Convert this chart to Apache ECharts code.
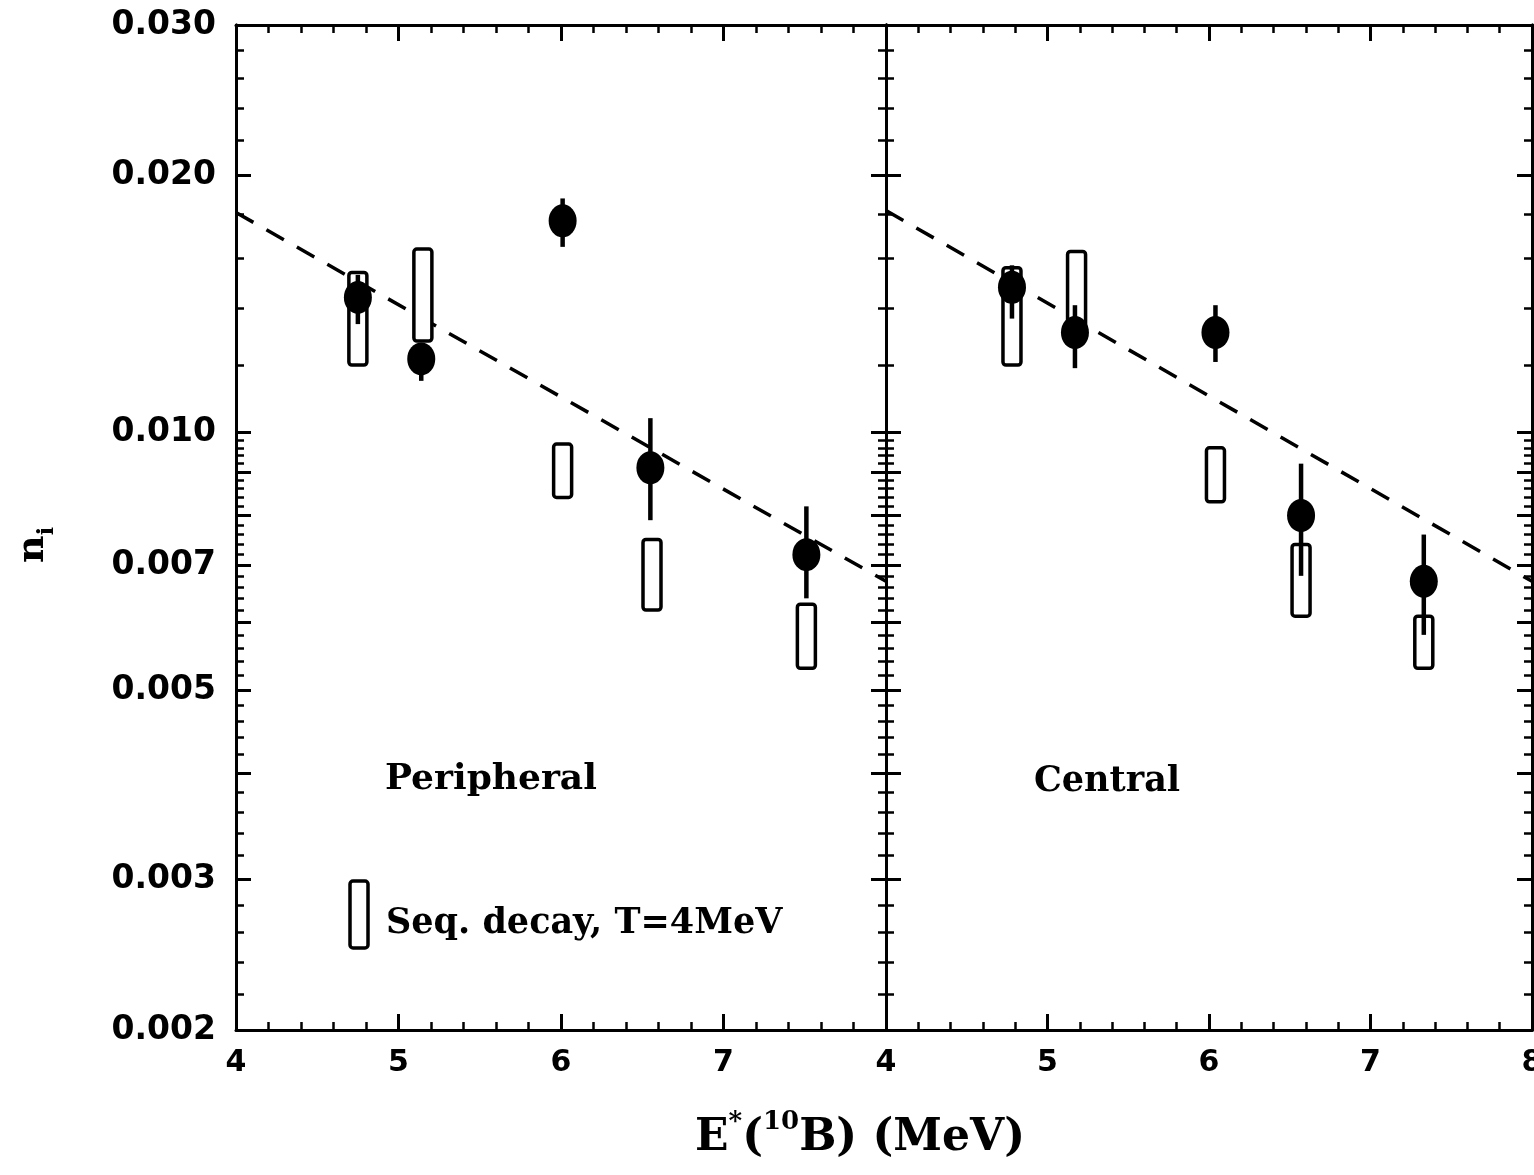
<!DOCTYPE html>
<html><head><meta charset="utf-8">
<script src="https://cdn.jsdelivr.net/npm/echarts@6/dist/echarts.min.js"></script>
<style>html,body{margin:0;padding:0;background:#fff;overflow:hidden}#c{width:1534px;height:1175px}</style>
</head><body><div id="c"></div>
<script>
// ---- data ----
const yTickLabels = [0.002, 0.003, 0.005, 0.007, 0.010, 0.020, 0.030];
const yMajorTicks = [0.002, 0.003, 0.004, 0.005, 0.006, 0.007, 0.008, 0.009, 0.010, 0.020, 0.030];
const yMinorTicks = [0.0022, 0.0024, 0.0026, 0.0028, 0.0032, 0.0034, 0.0036, 0.0038,
  0.0042, 0.0044, 0.0046, 0.0048, 0.0052, 0.0054, 0.0056, 0.0058, 0.0062, 0.0064, 0.0066, 0.0068,
  0.0072, 0.0074, 0.0076, 0.0078, 0.0082, 0.0084, 0.0086, 0.0088, 0.0092, 0.0094, 0.0096, 0.0098,
  0.012, 0.014, 0.016, 0.018, 0.022, 0.024, 0.026, 0.028];

const periphE  = [4.75, 5.14, 6.01, 6.55, 7.51];
const periphN  = [0.0144, 0.0122, 0.0177, 0.0091, 0.0072];
const periphLo = [0.0134, 0.0115, 0.0165, 0.0079, 0.0064];
const periphHi = [0.0153, 0.0126, 0.0188, 0.0104, 0.0082];
const periphSeqE  = [4.75, 5.15, 6.01, 6.56, 7.51];
const periphSeqLo = [0.0120, 0.0128, 0.0084, 0.0062, 0.0053];
const periphSeqHi = [0.0154, 0.0164, 0.0097, 0.0075, 0.0063];

const centralE  = [4.78, 5.17, 6.04, 6.57, 7.33];
const centralN  = [0.0148, 0.0131, 0.0131, 0.0080, 0.0067];
const centralLo = [0.0136, 0.0119, 0.0121, 0.0068, 0.0058];
const centralHi = [0.0157, 0.0141, 0.0141, 0.0092, 0.0076];
const centralSeqE  = [4.78, 5.18, 6.04, 6.57, 7.33];
const centralSeqLo = [0.0120, 0.0132, 0.0083, 0.0061, 0.0053];
const centralSeqHi = [0.0156, 0.0163, 0.0096, 0.0074, 0.0061];

const fitE = [4, 8];
const fitPeriph  = [0.0181, 0.0067];
const fitCentral = [0.0182, 0.0067];

// ---- helpers ----
const zip = (...a) => a[0].map((_, i) => a.map(arr => arr[i]));
const FONT = 'DejaVu Sans';
const SERIF = 'DejaVu Serif';

function xAxes(gridIndex, showLabels, hideLast) {
  const common = {
    type: 'value', gridIndex, min: 4, max: 8, interval: 1,
    axisLine: {show: true, lineStyle: {color: '#000', width: 3}},
    axisTick: {show: true, inside: true, length: 16, lineStyle: {color: '#000', width: 3}},
    minorTick: {show: true, splitNumber: 5, length: 8, lineStyle: {color: '#000', width: 2.5}},
    splitLine: {show: false}
  };
  return [
    Object.assign({}, common, {position: 'bottom',
      axisLabel: {show: showLabels, margin: 18, color: '#000', fontFamily: FONT, fontWeight: 'bold', fontSize: 30,
        hideOverlap: false, showMinLabel: true, showMaxLabel: true,
        formatter: v => (hideLast && v === 8) ? '' : String(v)}}),
    Object.assign({}, common, {position: 'top', axisLabel: {show: false}})
  ];
}
function yAxes(gridIndex, withLabels) {
  const base = {
    type: 'log', gridIndex, min: 0.002, max: 0.03, logBase: 10,
    axisLine: {show: true, lineStyle: {color: '#000', width: 3}},
    splitLine: {show: false}, minorTick: {show: false}
  };
  const out = [];
  ['left', 'right'].forEach(pos => {
    out.push(Object.assign({}, base, {position: pos,
      axisTick: {show: true, inside: true, length: 15, customValues: yMajorTicks, lineStyle: {color: '#000', width: 3}},
      axisLabel: {show: withLabels && pos === 'left', customValues: yTickLabels, margin: 20, color: '#000',
        fontFamily: FONT, fontWeight: 'bold', fontSize: 33, formatter: v => Number(v).toFixed(3)}}));
    out.push(Object.assign({}, base, {position: pos,
      axisTick: {show: true, inside: true, length: 8, customValues: yMinorTicks, lineStyle: {color: '#000', width: 2.5}},
      axisLabel: {show: false}}));
  });
  return out;
}

function boxRender(params, api) {
  const x = api.value(0), lo = api.value(1), hi = api.value(2);
  const pLo = api.coord([x, lo]), pHi = api.coord([x, hi]);
  return {type: 'rect', shape: {x: pLo[0] - 9, y: pHi[1], width: 18, height: pLo[1] - pHi[1], r: 3},
    style: {fill: '#fff', stroke: '#000', lineWidth: 3.5}};
}
function errRender(params, api) {
  const x = api.value(0), lo = api.value(1), hi = api.value(2);
  const pLo = api.coord([x, lo]), pHi = api.coord([x, hi]);
  return {type: 'line', shape: {x1: pLo[0], y1: pLo[1], x2: pHi[0], y2: pHi[1]},
    style: {stroke: '#000', lineWidth: 4.5}};
}

function panelSeries(xi, yi, E, N, Lo, Hi, SE, SLo, SHi, fit) {
  return [
    {type: 'line', xAxisIndex: xi, yAxisIndex: yi, data: zip(fitE, fit), symbol: 'none', silent: true,
      lineStyle: {color: '#000', width: 3.5, type: [20, 15]}, z: 1},
    {type: 'custom', xAxisIndex: xi, yAxisIndex: yi, data: zip(SE, SLo, SHi), renderItem: boxRender,
      encode: {x: 0, y: [1, 2]}, z: 2},
    {type: 'custom', xAxisIndex: xi, yAxisIndex: yi, data: zip(E, Lo, Hi), renderItem: errRender,
      encode: {x: 0, y: [1, 2]}, z: 3},
    {type: 'scatter', xAxisIndex: xi, yAxisIndex: yi, data: zip(E, N), symbol: 'circle', symbolSize: [28, 33],
      itemStyle: {color: '#000', opacity: 1}, z: 4}
  ];
}

const chart = echarts.init(document.getElementById('c'), null, {renderer: 'canvas'});
chart.setOption({
  backgroundColor: '#fff',
  animation: false,
  grid: [
    {left: 236, top: 25, width: 650, height: 1005, containLabel: false, outerBoundsMode: 'none'},
    {left: 886, top: 25, width: 646, height: 1005, containLabel: false, outerBoundsMode: 'none'}
  ],
  xAxis: [].concat(xAxes(0, true, true), xAxes(1, true, false)),
  yAxis: [].concat(yAxes(0, true), yAxes(1, false)),
  series: [].concat(
    panelSeries(0, 0, periphE, periphN, periphLo, periphHi, periphSeqE, periphSeqLo, periphSeqHi, fitPeriph),
    panelSeries(2, 4, centralE, centralN, centralLo, centralHi, centralSeqE, centralSeqLo, centralSeqHi, fitCentral)
  ),
  graphic: [
    {type: 'text', left: 385, top: 762, style: {text: 'Peripheral', fontFamily: SERIF, fontWeight: 'bold', fontSize: 36, fill: '#000'}},
    {type: 'text', left: 1034, top: 764, style: {text: 'Central', fontFamily: SERIF, fontWeight: 'bold', fontSize: 35, fill: '#000'}},
    {type: 'rect', shape: {x: 350, y: 881, width: 18, height: 67, r: 3}, style: {fill: '#fff', stroke: '#000', lineWidth: 3.5}},
    {type: 'text', left: 386, top: 906, style: {text: 'Seq. decay, T=4MeV', fontFamily: SERIF, fontWeight: 'bold', fontSize: 35, fill: '#000'}},
    {type: 'text', x: 860, y: 1135, style: {
      text: '{b|E}{s|*}{b|(}{s|10}{b|B) (MeV)}', align: 'center', verticalAlign: 'middle',
      rich: {b: {fontFamily: SERIF, fontWeight: 'bold', fontSize: 44, fill: '#000', verticalAlign: 'bottom', lineHeight: 52},
             s: {fontFamily: SERIF, fontWeight: 'bold', fontSize: 26, fill: '#000', verticalAlign: 'top', lineHeight: 52}}}},
    {type: 'text', x: 36, y: 545, rotation: Math.PI / 2, style: {
      text: '{b|n}{s|i}', align: 'center', verticalAlign: 'middle',
      rich: {b: {fontFamily: SERIF, fontWeight: 'bold', fontSize: 38, fill: '#000', lineHeight: 44, verticalAlign: 'top'},
             s: {fontFamily: SERIF, fontWeight: 'bold', fontSize: 22, fill: '#000', lineHeight: 44, verticalAlign: 'bottom'}}}}
  ]
});
</script>
</body></html>
